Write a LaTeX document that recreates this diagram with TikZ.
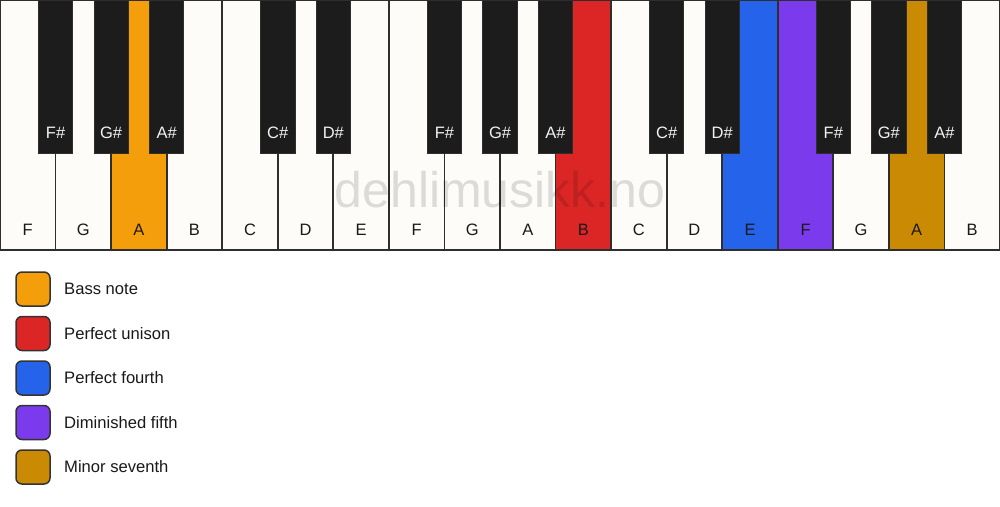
\documentclass[tikz,border=0pt]{standalone}
\usepackage{fontspec}
\setmainfont{Liberation Sans}
\begin{document}
\begin{tikzpicture}[x=1pt,y=-1pt]
\definecolor{whitekey}{HTML}{FDFCF9}
\definecolor{blackkey}{HTML}{1C1C1C}
\definecolor{keyline}{HTML}{2E2E2E}
\definecolor{cbass}{HTML}{F59E0B}
\definecolor{cunison}{HTML}{DC2626}
\definecolor{cfourth}{HTML}{2563EB}
\definecolor{cfifth}{HTML}{7C3AED}
\definecolor{cseventh}{HTML}{CA8A04}
\tikzset{
  wkey/.style={draw=keyline, line width=1.7pt},
  bkey/.style={fill=blackkey, draw=keyline, line width=0.8pt},
  wlabel/.style={font=\fontsize{16.5}{19}\selectfont, text=black!90, inner sep=0pt},
  blabel/.style={font=\fontsize{16.5}{19}\selectfont, text=white!95!black, inner sep=0pt},
  legbox/.style={draw=black!80, line width=1.5pt, rounded corners=6pt},
  legtext/.style={font=\fontsize{16.6}{19}\selectfont, text=black!90, anchor=west, inner sep=0pt},
}
\useasboundingbox (0,0) rectangle (1000,506);
\fill[white] (0,0) rectangle (1000,506);
\def\kw{55.5556}
% white keys
\foreach \name/\col [count=\i from 0] in {F/whitekey,G/whitekey,A/cbass,B/whitekey,C/whitekey,D/whitekey,E/whitekey,F/whitekey,G/whitekey,A/whitekey,B/cunison,C/whitekey,D/whitekey,E/cfourth,F/cfifth,G/whitekey,A/cseventh,B/whitekey}{
  \path[wkey, fill=\col] ({\i*\kw},0) rectangle ({(\i+1)*\kw},250);
  \node[wlabel] (w\i) at ({(\i+0.5)*\kw},230) {\name};
}
% watermark
\node[font=\fontsize{50}{60}\selectfont, text=black, text opacity=0.13, anchor=base, inner sep=0pt] (wm) at (500,207) {dehlimusikk.no};
% black keys
\foreach \name/\j in {F\#/1,G\#/2,A\#/3,C\#/5,D\#/6,F\#/8,G\#/9,A\#/10,C\#/12,D\#/13,F\#/15,G\#/16,A\#/17}{
  \path[bkey] ({\j*\kw-17.2},0) rectangle ({\j*\kw+17.2},153);
  \node[blabel] (b\j) at ({\j*\kw},133) {\name};
}
% legend
\foreach \col/\txt [count=\k from 0] in {cbass/Bass note,cunison/Perfect unison,cfourth/Perfect fourth,cfifth/Diminished fifth,cseventh/Minor seventh}{
  \path[legbox, fill=\col] (16,{289+\k*44.5-17}) rectangle (50,{289+\k*44.5+17});
  \node[legtext] (l\k) at (64,{289+\k*44.5}) {\txt};
}
\end{tikzpicture}
\end{document}
